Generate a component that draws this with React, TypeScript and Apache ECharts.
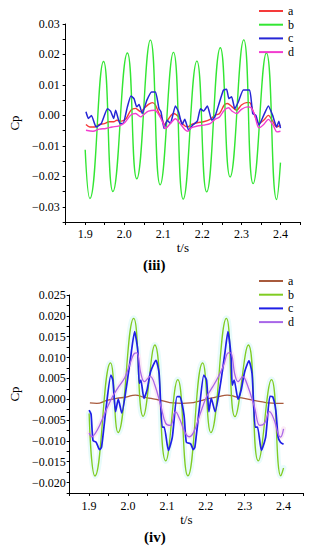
import { useEffect, useRef } from 'react';
import * as echarts from 'echarts';

const NAMES = ['a', 'b', 'c', 'd'];
const NAMES_IV = ['a (iv)', 'b (iv)', 'c (iv)', 'd (iv)'];

// ---- (iii) ----
const iiiA: [number, number][] = [
  [1.902, -0.0030], [1.912, -0.0038], [1.924, -0.0038], [1.936, -0.0030], [1.949, -0.0027], [1.961, -0.0021],
  [1.973, -0.0021], [1.981, -0.0016], [1.993, -0.0019], [2.005, -0.0010], [2.017, 0.0017], [2.029, 0.0023],
  [2.042, 0.0012], [2.050, 0.0022], [2.062, 0.0036], [2.072, 0.0042], [2.080, 0.0034], [2.089, 0.0006],
  [2.097, -0.0010], [2.102, -0.0030], [2.114, -0.0010], [2.126, 0.0006], [2.139, -0.0005], [2.151, -0.0030],
  [2.163, -0.0038], [2.171, -0.0030], [2.187, -0.0024], [2.203, -0.0021], [2.220, -0.0013], [2.232, 0.0000],
  [2.244, 0.0006], [2.256, 0.0034], [2.264, 0.0039], [2.276, 0.0028], [2.288, 0.0017], [2.300, 0.0034],
  [2.313, 0.0042], [2.321, 0.0042], [2.329, 0.0017], [2.337, -0.0010], [2.345, -0.0027], [2.357, -0.0016],
  [2.369, 0.0000], [2.380, -0.0019], [2.390, -0.0038], [2.400, -0.0032],
];
const iiiB: [number, number][] = [
  [1.900, -0.0113], [1.912, -0.0273], [1.947, 0.0177], [1.971, -0.0250], [2.008, 0.0205], [2.032, -0.0208],
  [2.067, 0.0247], [2.092, -0.0228], [2.126, 0.0207], [2.151, -0.0275], [2.186, 0.0178], [2.211, -0.0251],
  [2.246, 0.0222], [2.271, -0.0202], [2.306, 0.0248], [2.330, -0.0224], [2.364, 0.0205], [2.390, -0.0276],
  [2.400, -0.0155],
];
const iiiC: [number, number][] = [
  [1.902, 0.0012], [1.908, -0.0010], [1.916, 0.0000], [1.928, -0.0038], [1.941, -0.0027], [1.957, 0.0022],
  [1.965, 0.0014], [1.973, -0.0010], [1.978, 0.0017], [1.989, -0.0027], [1.997, -0.0027], [2.008, 0.0028],
  [2.017, 0.0064], [2.025, 0.0055], [2.032, 0.0028], [2.038, 0.0036], [2.046, 0.0006], [2.058, 0.0050],
  [2.070, 0.0077], [2.080, 0.0077], [2.089, 0.0022], [2.094, 0.0012], [2.102, -0.0043], [2.110, -0.0016],
  [2.118, -0.0027], [2.131, 0.0031], [2.139, 0.0012], [2.148, -0.0030], [2.155, -0.0013], [2.165, -0.0049],
  [2.175, -0.0032], [2.187, -0.0019], [2.195, 0.0022], [2.203, 0.0014], [2.213, 0.0031], [2.224, -0.0016],
  [2.232, -0.0005], [2.244, 0.0044], [2.254, 0.0083], [2.262, 0.0086], [2.268, 0.0055], [2.275, 0.0061],
  [2.283, 0.0022], [2.292, 0.0044], [2.305, 0.0083], [2.321, 0.0083], [2.329, 0.0006], [2.337, 0.0000],
  [2.345, -0.0032], [2.357, 0.0000], [2.369, 0.0031], [2.380, 0.0000], [2.390, -0.0038], [2.396, -0.0019],
  [2.400, -0.0042],
];
const iiiD: [number, number][] = [
  [1.902, -0.0049], [1.920, -0.0052], [1.936, -0.0045], [1.953, -0.0043], [1.969, -0.0038], [1.985, -0.0035],
  [2.001, -0.0024], [2.017, 0.0001], [2.029, 0.0006], [2.042, -0.0005], [2.050, 0.0003], [2.062, 0.0014],
  [2.078, 0.0017], [2.089, 0.0001], [2.100, -0.0027], [2.105, -0.0043], [2.118, -0.0027], [2.131, -0.0011],
  [2.143, -0.0027], [2.155, -0.0046], [2.163, -0.0052], [2.171, -0.0041], [2.187, -0.0035], [2.203, -0.0032],
  [2.220, -0.0027], [2.232, -0.0013], [2.244, -0.0005], [2.256, 0.0017], [2.267, 0.0025], [2.276, 0.0014],
  [2.288, 0.0006], [2.300, 0.0020], [2.315, 0.0028], [2.325, 0.0025], [2.334, 0.0001], [2.345, -0.0041],
  [2.357, -0.0030], [2.369, -0.0013], [2.381, -0.0032], [2.391, -0.0054], [2.400, -0.0052],
];

// ---- (iv) ----
const ivA: [number, number][] = [
  [1.902, -0.0009], [1.920, -0.0010], [1.945, -0.0003], [1.970, 0.0002], [1.995, 0.0005], [2.019, 0.0010],
  [2.040, 0.0005], [2.065, 0.0001], [2.090, -0.0004], [2.115, -0.0009], [2.140, -0.0010], [2.160, -0.0009],
  [2.185, -0.0004], [2.210, 0.0002], [2.232, 0.0006], [2.255, 0.0010], [2.280, 0.0005], [2.305, 0.0001],
  [2.330, -0.0004], [2.355, -0.0008], [2.380, -0.0010], [2.400, -0.0010],
];
const ivB: [number, number][] = [
  [1.900, -0.0034], [1.915, -0.0184], [1.955, 0.0087], [1.9745, -0.0080], [2.0146, 0.0194], [2.039, -0.0041],
  [2.069, 0.0130], [2.097, -0.0148], [2.128, 0.0047], [2.154, -0.0184], [2.192, 0.0087], [2.213, -0.0080],
  [2.253, 0.0194], [2.275, -0.0042], [2.3095, 0.0130], [2.335, -0.0148], [2.369, 0.0047], [2.393, -0.0184],
  [2.400, -0.0165],
];
const ivC: [number, number][] = [
  [1.900, -0.0026], [1.905, -0.0036], [1.910, -0.0099], [1.918, -0.0103], [1.927, -0.0121], [1.932, -0.0115],
  [1.944, -0.0018], [1.956, 0.0058], [1.961, 0.0046], [1.968, -0.0030], [1.975, 0.0000], [1.984, -0.0033],
  [1.996, 0.0030], [2.007, 0.0102], [2.017, 0.0162], [2.025, 0.0118], [2.029, 0.0038], [2.033, 0.0046],
  [2.041, 0.0002], [2.049, 0.0022], [2.058, 0.0066], [2.072, 0.0093], [2.080, 0.0062], [2.088, -0.0067],
  [2.093, -0.0067], [2.104, -0.0123], [2.114, -0.0091], [2.126, 0.0006], [2.133, 0.0006], [2.144, -0.0038],
  [2.150, -0.0103], [2.161, -0.0107], [2.168, -0.0121], [2.172, -0.0115], [2.184, -0.0018], [2.195, 0.0058],
  [2.202, 0.0046], [2.208, -0.0030], [2.214, 0.0002], [2.224, -0.0030], [2.238, 0.0038], [2.249, 0.0110],
  [2.257, 0.0162], [2.265, 0.0102], [2.268, 0.0034], [2.273, 0.0046], [2.283, 0.0000], [2.291, 0.0022],
  [2.300, 0.0066], [2.311, 0.0092], [2.319, 0.0062], [2.327, -0.0067], [2.333, -0.0067], [2.343, -0.0123],
  [2.354, -0.0091], [2.365, 0.0007], [2.372, 0.0006], [2.380, -0.0026], [2.386, -0.0091], [2.392, -0.0103],
  [2.400, -0.0108],
];
const ivD: [number, number][] = [
  [1.900, -0.0081], [1.907, -0.0090], [1.915, -0.0083], [1.927, -0.0063], [1.944, -0.0026], [1.960, 0.0006],
  [1.976, 0.0030], [1.992, 0.0052], [2.004, 0.0082], [2.017, 0.0110], [2.023, 0.0111], [2.033, 0.0062],
  [2.042, 0.0042], [2.057, 0.0055], [2.069, 0.0034], [2.085, -0.0018], [2.097, -0.0058], [2.109, -0.0063],
  [2.122, -0.0030], [2.134, -0.0050], [2.146, -0.0079], [2.157, -0.0090], [2.169, -0.0079], [2.186, -0.0034],
  [2.202, 0.0006], [2.218, 0.0030], [2.233, 0.0055], [2.246, 0.0082], [2.258, 0.0111], [2.264, 0.0111],
  [2.275, 0.0058], [2.283, 0.0042], [2.295, 0.0054], [2.307, 0.0034], [2.325, -0.0018], [2.339, -0.0063],
  [2.351, -0.0058], [2.364, -0.0030], [2.376, -0.0050], [2.386, -0.0083], [2.392, -0.0091], [2.400, -0.0071],
];

const COLORS_III = ['#f53a3a', '#33e633', '#2626d6', '#f23ccf'];
const COLORS_IV = ['#a85a3c', '#80cc22', '#1f1fe6', '#a866e8'];

const FONT = 'Liberation Serif';

function fmt(step: number, digits: number) {
  return (v: number) => {
    const k = Math.round(v / step);
    if (Math.abs(v / step - k) > 1e-6) return '';
    const s = Math.abs(k * step).toFixed(digits);
    return (k < 0 ? '\u2212' : '') + s;
  };
}

function xAxisCfg(gridIndex: number, margin: number) {
  return {
    type: 'value', gridIndex, min: 1.85, max: 2.45, interval: 0.05,
    name: 't/s', nameLocation: 'middle', nameGap: 18,
    nameTextStyle: { fontFamily: FONT, fontSize: 13, color: '#000' },
    axisLine: { onZero: false, lineStyle: { color: '#000', width: 1 } },
    axisTick: { length: 3, lineStyle: { color: '#000', width: 1 } },
    axisLabel: { formatter: fmt(0.1, 1), color: '#000', fontFamily: FONT, fontSize: 12, margin },
    splitLine: { show: false },
  };
}

function yAxisCfg(gridIndex: number, min: number, max: number, interval: number, step: number, digits: number, margin: number, nameGap: number) {
  return {
    type: 'value', gridIndex, min, max, interval,
    name: 'Cp', nameLocation: 'middle', nameGap,
    nameTextStyle: { fontFamily: FONT, fontSize: 13, color: '#000' },
    axisLine: { show: true, onZero: false, lineStyle: { color: '#000', width: 1 } },
    axisTick: { show: true, length: 3, lineStyle: { color: '#000', width: 1 } },
    axisLabel: { formatter: fmt(step, digits), color: '#000', fontFamily: FONT, fontSize: 12, margin },
    splitLine: { show: false },
  };
}

function line(name: string, data: [number, number][], idx: number, color: string, width: number, smooth: number, z = 2) {
  return {
    type: 'line', name, data, xAxisIndex: idx, yAxisIndex: idx, symbol: 'none', smooth, z,
    lineStyle: { color, width }, itemStyle: { color },
  };
}

function halo(data: [number, number][], idx: number, color: string, width: number, smooth: number) {
  return {
    type: 'line', data, xAxisIndex: idx, yAxisIndex: idx, symbol: 'none', smooth, z: 1, silent: true,
    lineStyle: { color, width, cap: 'round', join: 'round' }, itemStyle: { color },
  };
}

export default function App() {
  const ref = useRef<HTMLDivElement>(null);
  useEffect(() => {
    if (!ref.current) return;
    const chart = echarts.init(ref.current, undefined, { renderer: 'svg' });
    const legendBase = {
      orient: 'vertical', padding: 0, itemWidth: 24, itemHeight: 12, itemGap: 1.7,
      textStyle: { fontFamily: FONT, fontSize: 12, color: '#000' },
      itemStyle: { opacity: 0 }, selectedMode: false,
    };
    chart.setOption({
      animation: false,
      backgroundColor: '#fff',
      grid: [
        { left: 53, top: 24, width: 247, height: 198 },
        { left: 56, top: 295, width: 247, height: 198 },
      ],
      xAxis: [xAxisCfg(0, 6), xAxisCfg(1, 7)],
      yAxis: [
        yAxisCfg(0, -0.035, 0.03, 0.005, 0.01, 2, 6, 38),
        yAxisCfg(1, -0.0225, 0.025, 0.0025, 0.005, 3, 4, 41),
      ],
      legend: [
        { ...legendBase, left: 258, top: 5, data: NAMES },
        { ...legendBase, left: 258, top: 275, data: NAMES_IV, formatter: (n: string) => n.charAt(0) },
      ],
      graphic: [
        { type: 'text', left: 143, top: 257, style: { text: '(iii)', font: `bold 15px ${FONT}`, fill: '#000' } },
        { type: 'text', left: 144, top: 529, style: { text: '(iv)', font: `bold 15px ${FONT}`, fill: '#000' } },
      ],
      series: [
        line(NAMES[0], iiiA, 0, COLORS_III[0], 1.4, 0.3),
        line(NAMES[1], iiiB, 0, COLORS_III[1], 1.4, 0.5),
        line(NAMES[2], iiiC, 0, COLORS_III[2], 1.5, 0.15),
        line(NAMES[3], iiiD, 0, COLORS_III[3], 1.4, 0.3),
        halo(ivB, 1, '#e8fbfb', 6, 0.5),
        halo(ivD, 1, '#fbebf6', 5, 0.4),
        line(NAMES_IV[0], ivA, 1, COLORS_IV[0], 1.3, 0.5),
        line(NAMES_IV[1], ivB, 1, COLORS_IV[1], 1.3, 0.5),
        line(NAMES_IV[2], ivC, 1, COLORS_IV[2], 1.7, 0.2),
        line(NAMES_IV[3], ivD, 1, COLORS_IV[3], 1.3, 0.4),
      ],
    });
    return () => chart.dispose();
  }, []);
  return <div ref={ref} style={{ position: 'fixed', left: 0, top: 0, width: 312, height: 550 }} />;
}
